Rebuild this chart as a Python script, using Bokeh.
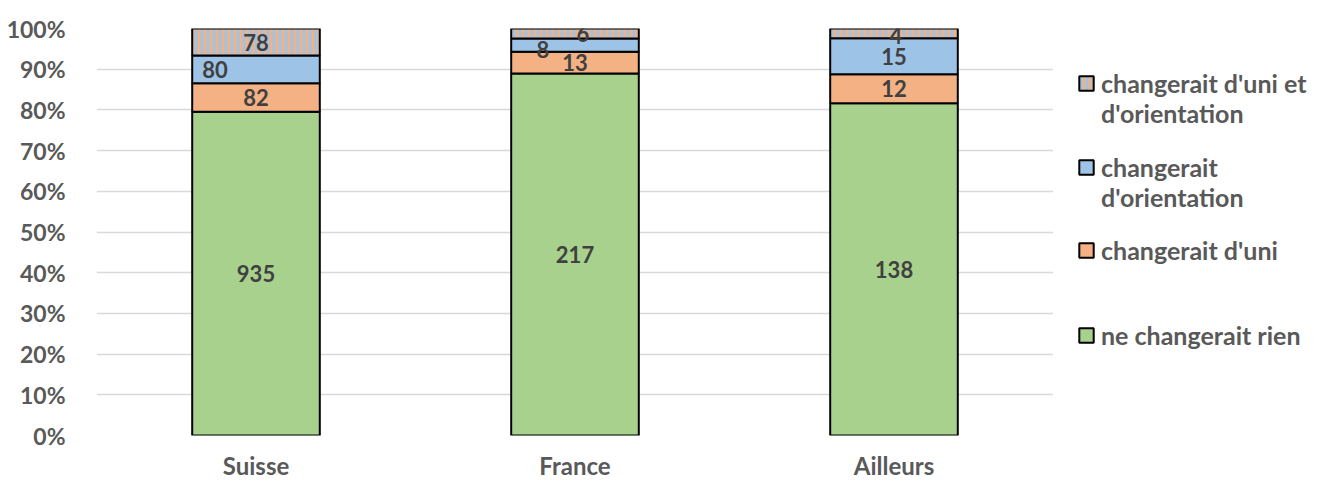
from bokeh.plotting import figure
from bokeh.layouts import row
from bokeh.models import (FactorRange, NumeralTickFormatter, FixedTicker, Legend, LegendItem,
                          ColumnDataSource, Range1d)
from bokeh.core.properties import value
from bokeh.embed import file_html
from bokeh.resources import INLINE

# ---- data ----
categories = ["Suisse", "France", "Ailleurs"]
ne_changerait_rien = [935, 217, 138]
changerait_uni = [82, 13, 12]
changerait_orientation = [80, 8, 15]
changerait_uni_et_orientation = [78, 6, 4]
# legend texts, one list of lines per series (bottom series first)
legend_lines = [["ne changerait rien"], ["changerait d'uni"],
                ["changerait", "d'orientation"], ["changerait d'uni et", "d'orientation"]]
y_ticks = [0, 0.1, 0.2, 0.3, 0.4, 0.5, 0.6, 0.7, 0.8, 0.9, 1.0]

# ---- styles ----
GREEN = "#A9D18E"
ORANGE = "#F4B183"
BLUE = "#9DC3E6"
FONT = "Lato"
AXIS_TEXT = "#595959"
LABEL_TEXT = "#404040"
# manual label nudges in px per (series, category) as in the source chart
label_dx = [[0, 0, 0], [0, 0, 0], [-41, -32, 0], [0, 8, 2]]
label_dy = [[0, 0, 0], [0, 0, 0], [0, 4, 0], [0, 0, 2]]
# legend block positions (x, y from bottom of legend panel) per series
legend_loc = [(24, 85), (24, 170), (24, 223), (24, 307)]

series = [ne_changerait_rien, changerait_uni, changerait_orientation, changerait_uni_et_orientation]
totals = [sum(s[i] for s in series) for i in range(len(categories))]

fills = [GREEN, ORANGE, BLUE, ORANGE]
hatches = [None, None, None, "|"]


def bar_style(k):
    kw = dict(fill_color=fills[k], line_color="black", line_width=2)
    if hatches[k]:
        kw.update(hatch_pattern=hatches[k], hatch_color=BLUE, hatch_scale=6, hatch_weight=3)
    return kw


p = figure(x_range=FactorRange(*categories, range_padding=0), y_range=(0, 1),
           width=1053, height=482, output_backend="svg", toolbar_location=None,
           min_border_left=96, min_border_right=0, min_border_top=28, min_border_bottom=47)

bottom = [0.0] * len(categories)
for k, s in enumerate(series):
    frac = [s[i] / totals[i] for i in range(len(categories))]
    top = [bottom[i] + frac[i] for i in range(len(categories))]
    src = ColumnDataSource(dict(x=categories, bottom=bottom, top=top,
                                mid=[(bottom[i] + top[i]) / 2 for i in range(len(categories))],
                                lab=[str(v) for v in s], dx=label_dx[k], dy=label_dy[k]))
    p.vbar(x="x", bottom="bottom", top="top", width=0.4, source=src, **bar_style(k))
    p.text(x="x", y="mid", text="lab", source=src, x_offset="dx", y_offset="dy",
           text_align="center", text_baseline="middle", text_font=value(FONT),
           text_font_style="bold", text_font_size="22px", text_color=LABEL_TEXT)
    bottom = top

p.yaxis.ticker = FixedTicker(ticks=y_ticks)
p.yaxis.formatter = NumeralTickFormatter(format="0%")
for ax in (p.xaxis, p.yaxis):
    ax.axis_line_color = None
    ax.major_tick_line_color = None
    ax.minor_tick_line_color = None
    ax.major_label_text_font = FONT
    ax.major_label_text_font_style = "bold"
    ax.major_label_text_color = AXIS_TEXT
p.yaxis.major_label_text_font_size = "23px"
p.xaxis.major_label_text_font_size = "24px"
p.yaxis.major_label_standoff = 25
p.xaxis.major_label_standoff = 9
p.xgrid.grid_line_color = None
p.ygrid.grid_line_color = "#D9D9D9"
p.ygrid.grid_line_width = 1.5
p.outline_line_color = None

# ---- legend panel (swatch renderers are hidden; only their legend glyphs show) ----
pl = figure(width=274, height=482, output_backend="svg", toolbar_location=None,
            x_range=Range1d(0, 1), y_range=Range1d(0, 1),
            x_axis_location=None, y_axis_location=None,
            min_border_left=0, min_border_right=0, min_border_top=0, min_border_bottom=0)
pl.grid.visible = False
pl.outline_line_color = None
for k in range(len(series)):
    r = pl.vbar(x=[0.5], bottom=[0.5], top=[0.5], width=0.0, visible=False, **bar_style(k))
    items = [LegendItem(label=legend_lines[k][0], renderers=[r], index=0)]
    for extra in legend_lines[k][1:]:
        items.append(LegendItem(label=extra, renderers=[]))
    leg = Legend(items=items, location=legend_loc[k], padding=0, spacing=0, margin=0,
                 label_height=30, glyph_width=18, glyph_height=18, label_standoff=6,
                 label_text_font=FONT, label_text_font_style="bold", label_text_font_size="25px",
                 label_text_line_height=1.0,
                 label_text_color=AXIS_TEXT, border_line_alpha=0, background_fill_alpha=0)
    pl.add_layout(leg)

open("out.html", "w").write(file_html(row(p, pl), INLINE))
